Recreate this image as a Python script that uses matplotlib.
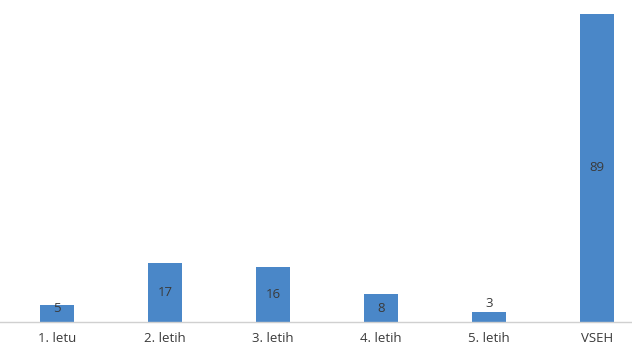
import matplotlib

matplotlib.use("Agg")
import matplotlib.pyplot as plt

categories = ["1. letu", "2. letih", "3. letih", "4. letih", "5. letih", "VSEH"]
values = [5, 17, 16, 8, 3, 89]

BAR_COLOR = "#4a87c8"
TEXT_COLOR = "#3a3a3a"

plt.rcParams["font.family"] = ["Open Sans", "DejaVu Sans"]

fig = plt.figure(figsize=(6.32, 3.53), dpi=100)
ax = fig.add_axes([0, 31 / 353, 1, 322 / 353])

xs = list(range(len(categories)))
ax.bar(xs, values, width=0.31, color=BAR_COLOR)

# value labels: centred inside the bar, small bars get theirs on top
for x, v in zip(xs, values):
    if v < 4:
        ax.text(x, v + 0.6, str(v), ha="center", va="bottom",
                fontsize=9.5, color=TEXT_COLOR)
    else:
        ax.text(x, v / 2 + (1.5 if v < 6 else 0), str(v), ha="center",
                va="center", fontsize=9.5, color=TEXT_COLOR)

ax.set_xlim(-0.528, 5.324)
ax.set_ylim(0, 93)
ax.set_xticks(xs)
ax.set_xticklabels(categories, fontsize=9.5, color=TEXT_COLOR)
ax.tick_params(axis="x", length=0, pad=7)
ax.set_yticks([])
for side in ("top", "right", "left"):
    ax.spines[side].set_visible(False)
ax.spines["bottom"].set_color("#d0d0d0")
ax.spines["bottom"].set_linewidth(1.0)

fig.savefig("out.png", dpi=100)
